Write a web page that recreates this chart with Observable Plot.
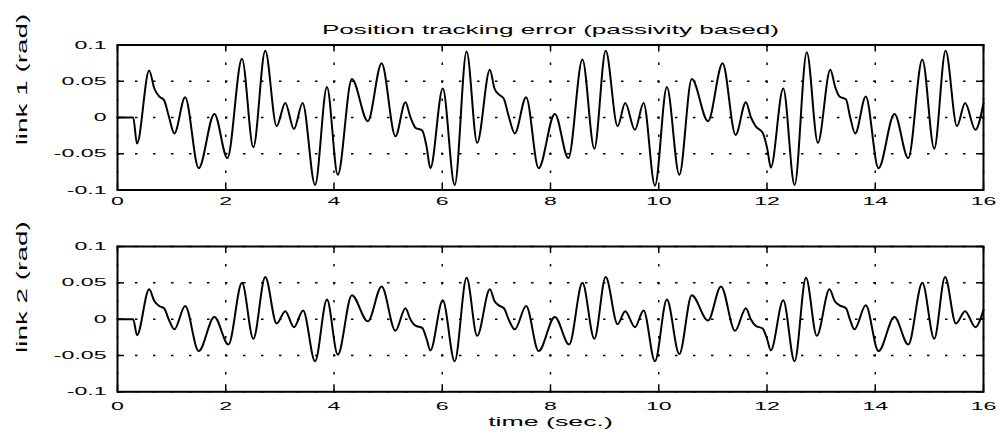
<!DOCTYPE html>
<html><head><meta charset="utf-8">
<script src="https://cdn.jsdelivr.net/npm/d3@7"></script>
<script src="https://cdn.jsdelivr.net/npm/@observablehq/plot@0.6"></script>
<style>
html,body{margin:0;padding:0;background:#fff;}
#fig{position:relative;width:999px;height:432px;overflow:hidden;background:#fff;}
#bar{position:absolute;left:53px;top:3px;width:937px;height:7px;background:linear-gradient(#7c7c7c,#a8a8a8 40%,#dedede);}
#topPanel,#botPanel{position:absolute;left:0;}
#topPanel{top:0;} #botPanel{top:212px;}
</style></head><body>
<div id="fig"><div id="bar"></div><div id="topPanel"></div><div id="botPanel"></div></div>
<script>
const titleText = "Position tracking error (passivity based)";
const yLabel1 = "link 1 (rad)";
const yLabel2 = "link 2 (rad)";
const xLabel = "time (sec.)";
const xTicks = [0, 2, 4, 6, 8, 10, 12, 14, 16];
const xTickLabels = ["0", "2", "4", "6", "8", "10", "12", "14", "16"];
const yTicks = [-0.1, -0.05, 0, 0.05, 0.1];
const yTickLabels = ["-0.1", "-0.05", "0", "0.05", "0.1"];

// link 1: times and values (extrema and shoulders)
const t1 = [0, 0.29, 0.36, 0.585, 0.68, 0.77, 0.86, 0.95, 1.05, 1.25, 1.50, 1.79, 2.03, 2.30, 2.51, 2.73, 2.94, 3.10, 3.26, 3.42, 3.65, 3.87, 4.07, 4.33, 4.625, 4.88, 5.135, 5.32, 5.41, 5.505, 5.63, 5.71, 5.78, 6.01, 6.23, 6.45, 6.645, 6.88, 6.965, 7.045, 7.137, 7.23, 7.34, 7.55, 7.78, 8.08, 8.33, 8.59, 8.81, 9.02, 9.24, 9.38, 9.56, 9.72, 9.93, 10.15, 10.38, 10.61, 10.91, 11.18, 11.42, 11.61, 11.70, 11.79, 11.92, 12.01, 12.07, 12.30, 12.51, 12.735, 12.94, 13.17, 13.26, 13.34, 13.46, 13.535, 13.63, 13.825, 14.06, 14.355, 14.61, 14.87, 15.09, 15.30, 15.51, 15.66, 15.85, 16.0];
const e1 = [0, 0, -0.036, 0.065, 0.040, 0.029, 0.024, 0.001, -0.022, 0.028, -0.070, 0.005, -0.056, 0.081, -0.041, 0.092, -0.012, 0.020, -0.016, 0.020, -0.093, 0.042, -0.079, 0.053, -0.005, 0.075, -0.026, 0.021, 0.001, -0.014, -0.018, -0.040, -0.070, 0.040, -0.093, 0.091, -0.035, 0.066, 0.040, 0.032, 0.026, 0.001, -0.022, 0.028, -0.070, 0.005, -0.056, 0.080, -0.043, 0.092, -0.012, 0.020, -0.017, 0.020, -0.094, 0.042, -0.079, 0.053, -0.005, 0.075, -0.024, 0.021, 0.001, -0.012, -0.021, -0.045, -0.069, 0.040, -0.093, 0.090, -0.035, 0.066, 0.042, 0.029, 0.025, 0.001, -0.022, 0.029, -0.070, 0.005, -0.056, 0.080, -0.043, 0.092, -0.012, 0.020, -0.017, 0.020];

// link 2
const t2 = [0, 0.29, 0.36, 0.585, 0.68, 0.77, 0.86, 0.95, 1.05, 1.25, 1.50, 1.79, 2.05, 2.30, 2.51, 2.73, 2.94, 3.10, 3.26, 3.43, 3.65, 3.87, 4.07, 4.33, 4.625, 4.88, 5.135, 5.32, 5.41, 5.505, 5.63, 5.71, 5.78, 6.01, 6.23, 6.45, 6.645, 6.88, 6.965, 7.045, 7.14, 7.23, 7.34, 7.55, 7.78, 8.08, 8.345, 8.59, 8.81, 9.02, 9.24, 9.38, 9.56, 9.72, 9.93, 10.15, 10.38, 10.61, 10.91, 11.15, 11.41, 11.61, 11.70, 11.79, 11.92, 12.00, 12.07, 12.30, 12.51, 12.72, 12.92, 13.155, 13.25, 13.34, 13.46, 13.535, 13.615, 13.825, 14.06, 14.355, 14.61, 14.87, 15.09, 15.29, 15.49, 15.66, 15.85, 16.0];
const e2 = [0, 0, -0.022, 0.041, 0.025, 0.018, 0.015, -0.001, -0.014, 0.018, -0.044, 0.003, -0.035, 0.050, -0.027, 0.058, -0.006, 0.011, -0.011, 0.012, -0.058, 0.027, -0.049, 0.033, -0.003, 0.045, -0.016, 0.015, 0.000, -0.009, -0.012, -0.027, -0.043, 0.026, -0.058, 0.057, -0.023, 0.041, 0.025, 0.019, 0.015, -0.001, -0.014, 0.018, -0.044, 0.003, -0.035, 0.050, -0.027, 0.058, -0.007, 0.011, -0.011, 0.012, -0.058, 0.027, -0.048, 0.033, -0.002, 0.045, -0.016, 0.015, 0.000, -0.009, -0.013, -0.027, -0.043, 0.026, -0.058, 0.057, -0.023, 0.041, 0.025, 0.019, 0.015, -0.001, -0.014, 0.019, -0.044, 0.003, -0.035, 0.050, -0.027, 0.058, -0.006, 0.011, -0.011, 0.013];

const FONT = "'Liberation Sans', Arial, Helvetica, sans-serif";
const W = 999, ML = 117, MR = 16;

function panel({t, e, height, marginTop, marginBottom, yLabel, yLabelDy, title, xTitle, xPad}) {
  const fh = height - marginTop - marginBottom;
  const fw = W - ML - MR;
  const marks = [
    Plot.ruleX(xTicks, {stroke: "#000", strokeWidth: 1.5, strokeDasharray: "2.5,15.5"}),
    Plot.ruleY(yTicks, {stroke: "#000", strokeWidth: 1.5, strokeDasharray: "2.5,15.5"}),
    Plot.ruleX(xTicks, {stroke: "#000", strokeWidth: 1.5, insetTop: fh - 7}),
    Plot.ruleX(xTicks, {stroke: "#000", strokeWidth: 1.5, insetBottom: fh - 7}),
    Plot.ruleY(yTicks, {stroke: "#000", strokeWidth: 1.5, insetRight: fw - 7}),
    Plot.ruleY(yTicks, {stroke: "#000", strokeWidth: 1.5, insetLeft: fw - 7}),
    Plot.lineY(e, {x: t, y: e, curve: "monotone-x", stroke: "#000", strokeWidth: 2}),
    Plot.frame({stroke: "#000", strokeWidth: 2}),
    Plot.text([yLabel], {frameAnchor: "left", textAnchor: "middle", lineAnchor: "middle", rotate: -90, dx: -95.5, dy: yLabelDy, fontSize: 15.5, fill: "#000"})
  ];
  if (title) marks.push(Plot.text([title], {frameAnchor: "top", textAnchor: "middle", lineAnchor: "middle", dy: -15, fontSize: 12.5, fill: "#000"}));
  if (xTitle) marks.push(Plot.text([xTitle], {frameAnchor: "bottom", textAnchor: "middle", lineAnchor: "middle", dy: 30.3, fontSize: 12.5, fill: "#000"}));
  return Plot.plot({
    width: W, height, marginLeft: ML, marginRight: MR, marginTop, marginBottom,
    style: {fontFamily: FONT, fontSize: "11px", background: "#fff", color: "#000"},
    x: {domain: [0, 16], ticks: xTicks, tickSize: 0, tickPadding: xPad, label: null,
        tickFormat: d => xTickLabels[xTicks.findIndex(v => Math.abs(v - d) < 1e-9)]},
    y: {domain: [-0.1, 0.1], ticks: yTicks, tickSize: 0, tickPadding: 11, label: null,
        tickFormat: d => yTickLabels[yTicks.findIndex(v => Math.abs(v - d) < 1e-9)]},
    marks
  });
}

function stretch(svg) {
  svg.querySelectorAll("text").forEach(el => {
    const s = el.textContent;
    let sx;
    if (/^link/.test(s)) sx = 1.8;
    else if (/^time/.test(s)) sx = 2.14;
    else if (/[a-z]/.test(s)) sx = 2.09;
    else sx = 2.1;
    const x = parseFloat(el.getAttribute("x")) || 0;
    const tr = el.getAttribute("transform") || "";
    el.setAttribute("transform", `${tr} translate(${x},0) scale(${sx},1) translate(${-x},0)`.trim());
  });
}

const topSvg = panel({t: t1, e: e1, height: 212, marginTop: 44.5, marginBottom: 22.5, yLabel: yLabel1, yLabelDy: -38, title: titleText, xPad: 7});
const botSvg = panel({t: t2, e: e2, height: 220, marginTop: 34, marginBottom: 40.7, yLabel: yLabel2, yLabelDy: -32, xTitle: xLabel, xPad: 10});
document.getElementById("topPanel").appendChild(topSvg);
document.getElementById("botPanel").appendChild(botSvg);
stretch(topSvg); stretch(botSvg);
</script>
</body></html>
